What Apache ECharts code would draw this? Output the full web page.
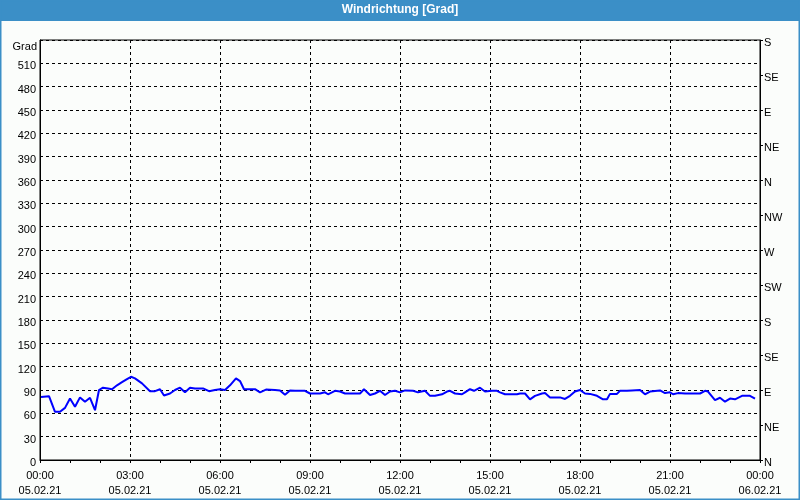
<!DOCTYPE html>
<html>
<head>
<meta charset="utf-8">
<script src="https://cdn.jsdelivr.net/npm/echarts@6/dist/echarts.min.js"></script>
<style>
html,body{margin:0;padding:0;background:#fbfdfb;}
#c{width:800px;height:500px;}
</style>
</head>
<body>
<div id="c"></div>
<script>
// Minutes since 05.02.21 00:00
var timeMinutes = [2,18,20,30,40,50,60,70,80,90,100,110,118,126,136,144,154,164,174,182,190,204,220,230,240,248,260,270,280,290,300,310,326,338,350,360,370,380,392,400,408,430,440,452,470,480,490,500,510,530,540,560,570,576,590,600,610,640,648,660,670,680,690,700,710,720,730,746,756,770,780,790,804,814,820,830,844,850,860,868,880,890,904,914,920,930,954,960,970,980,990,1004,1010,1020,1040,1050,1060,1070,1080,1090,1100,1114,1126,1134,1140,1154,1160,1174,1184,1200,1210,1220,1240,1250,1260,1266,1276,1290,1320,1330,1336,1350,1360,1370,1380,1390,1404,1420,1430];
var windDir = [81,82,81,62,62,67,79,68.5,80.5,75,80,64,90,93,92,91,96,100,104,107,105,98.5,88.5,88.5,91,83,85.5,90,93,87,93,92,92,88.5,90,91,90,96,105,101.5,91,91,87,90.5,90,89.5,84,89.5,89,89,85.5,85.5,87,84.5,89,88,85.5,85.5,91,83.5,85.5,89,83.5,88,89,87,89.5,89,87,89,82.5,82.5,84.5,88,89,85.5,84.5,87,91,89,93,88,89,89,87,84.5,84.5,85.5,85.5,78,82.5,85.5,86,80.5,80.5,78.5,82.5,88,90,85.5,85,82.5,78,78,85,85,89,89,89.5,90,84.5,88,89.5,86,87,84.5,86,85.5,85.5,89,88,77,80,75,79,78,82.5,82.5,79];
var leftTicks = [0,30,60,90,120,150,180,210,240,270,300,330,360,390,420,450,480,510,540];
var compassLabels = ['N','NE','E','SE','S','SW','W','NW','N','NE','E','SE','S'];
var xTickLabels = ['00:00\n05.02.21','03:00\n05.02.21','06:00\n05.02.21','09:00\n05.02.21','12:00\n05.02.21','15:00\n05.02.21','18:00\n05.02.21','21:00\n05.02.21','00:00\n06.02.21'];
var titleText = 'Windrichtung [Grad]';
var yUnit = 'Grad';

var seriesData = timeMinutes.map(function(t,i){return [t, windDir[i]];});
var font = 'Liberation Sans';
var chart = echarts.init(document.getElementById('c'), null, {renderer:'canvas'});
chart.setOption({
  backgroundColor:'#fbfdfb',
  animation:false,
  graphic:[
    {type:'rect', shape:{x:0,y:0,width:800,height:21}, style:{fill:'#3b8fc7'}, z:-1},
    {type:'rect', shape:{x:0.5,y:0.5,width:799,height:499}, style:{fill:null, stroke:'#3b8fc7', lineWidth:2}, z:-1},
    {type:'text', left:'center', top:4, style:{text:titleText, fill:'#ffffff', font:'bold 12px "Liberation Sans"'}},
    {type:'text', right:763, top:41, style:{text:yUnit, fill:'#000', font:'11px "Liberation Sans"', textAlign:'right'}}
  ],
  grid:{left:40,right:40,top:40,bottom:40,show:true,borderColor:'#000',borderWidth:1,backgroundColor:'transparent'},
  xAxis:{
    type:'value', min:0, max:1440, interval:180,
    axisLine:{show:true,lineStyle:{color:'#000'}},
    axisTick:{show:true,length:3,lineStyle:{color:'#000'}},
    minorTick:{show:true,splitNumber:3,length:3,lineStyle:{color:'#000'}},
    axisLabel:{color:'#000',fontFamily:font,fontSize:11,lineHeight:15,margin:8,
      formatter:function(v){return xTickLabels[Math.round(v/180)];}},
    splitLine:{show:true,lineStyle:{color:'#000',type:[3,3],width:1}}
  },
  yAxis:[
    {type:'value', min:0, max:540, interval:30, position:'left',
     axisLine:{show:true,lineStyle:{color:'#000'}},
     axisTick:{show:false},
     axisLabel:{color:'#000',fontFamily:font,fontSize:11,margin:4,verticalAlign:'top',lineHeight:6,
       formatter:function(v){return (v===540)?'':String(leftTicks[Math.round(v/30)]);}},
     splitLine:{show:true,lineStyle:{color:'#000',type:[3,3],width:1}}
    },
    {type:'value', min:0, max:540, interval:45, position:'right',
     axisLine:{show:true,lineStyle:{color:'#000'}},
     axisTick:{show:true,inside:false,length:3,lineStyle:{color:'#000'}},
     axisLabel:{color:'#000',fontFamily:font,fontSize:11,margin:4,verticalAlign:'top',lineHeight:6,
       formatter:function(v){return compassLabels[Math.round(v/45)];}},
     splitLine:{show:false}
    }
  ],
  series:[{
    type:'line', data:seriesData, yAxisIndex:0, showSymbol:false, symbol:'none',
    lineStyle:{color:'#0000ff',width:2}, z:5
  }]
});
</script>
</body>
</html>
